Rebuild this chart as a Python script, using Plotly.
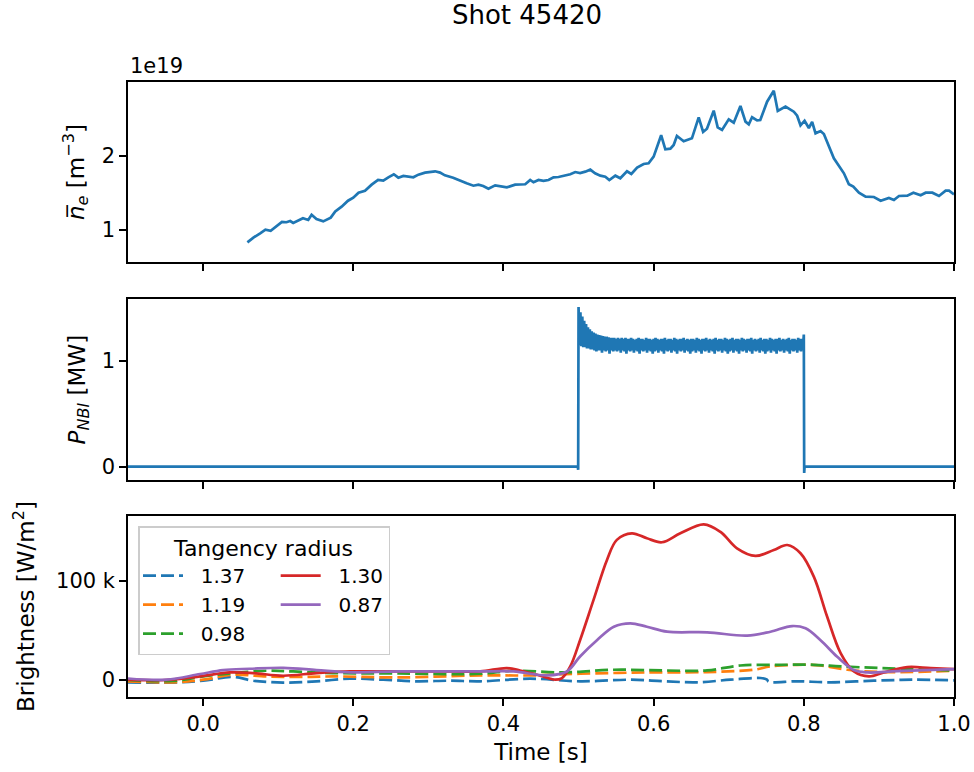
import plotly.graph_objects as go

# ---------------- data ----------------
# line-averaged density (units of 1e19 m^-3)
ne_t = [0.059, 0.067, 0.076, 0.083, 0.090, 0.098, 0.105, 0.111, 0.116, 0.120, 0.127, 0.133, 0.140, 0.1445,
        0.151, 0.160, 0.170, 0.176, 0.1845, 0.193, 0.200, 0.207, 0.2156, 0.2245, 0.233, 0.240, 0.2467,
        0.254, 0.260, 0.2667, 0.280, 0.2867, 0.2956, 0.309, 0.3156, 0.322, 0.333, 0.342, 0.351, 0.360,
        0.3667, 0.373, 0.380, 0.389, 0.398, 0.4045, 0.4156, 0.429, 0.4356, 0.440, 0.4467, 0.4533, 0.460,
        0.4667, 0.4733, 0.480, 0.489, 0.4956, 0.502, 0.509, 0.5156, 0.522, 0.529, 0.5356, 0.541, 0.549,
        0.5556, 0.5645, 0.5703, 0.578, 0.5867, 0.5933, 0.600, 0.610, 0.6156, 0.6223, 0.6267, 0.631, 0.640,
        0.651, 0.660, 0.6659, 0.671, 0.680, 0.6853, 0.6911, 0.700, 0.7067, 0.7156, 0.7223, 0.7267, 0.7311,
        0.7378, 0.742, 0.7511, 0.760, 0.7653, 0.7756, 0.7867, 0.7911, 0.7956, 0.801, 0.8067, 0.8111,
        0.8156, 0.8223, 0.8267, 0.840, 0.8534, 0.860, 0.8659, 0.8734, 0.8823, 0.8933, 0.9023, 0.9133,
        0.920, 0.9267, 0.9378, 0.9459, 0.9556, 0.9623, 0.9712, 0.980, 0.9889, 0.9934, 1.000]
ne_val = [0.834, 0.897, 0.955, 1.004, 0.990, 1.058, 1.108, 1.104, 1.120, 1.094, 1.125, 1.157, 1.135, 1.206,
          1.148, 1.116, 1.166, 1.250, 1.314, 1.394, 1.435, 1.502, 1.529, 1.610, 1.673, 1.664, 1.709,
          1.750, 1.704, 1.727, 1.709, 1.745, 1.772, 1.790, 1.772, 1.736, 1.704, 1.664, 1.628, 1.596,
          1.610, 1.592, 1.556, 1.601, 1.583, 1.574, 1.610, 1.615, 1.673, 1.642, 1.673, 1.660, 1.673,
          1.709, 1.713, 1.731, 1.750, 1.780, 1.767, 1.785, 1.812, 1.763, 1.731, 1.717, 1.673, 1.731,
          1.696, 1.790, 1.754, 1.839, 1.888, 1.897, 1.987, 2.275, 2.086, 2.094, 2.144, 2.265, 2.194,
          2.234, 2.517, 2.319, 2.363, 2.606, 2.382, 2.346, 2.490, 2.444, 2.669, 2.458, 2.423, 2.517,
          2.476, 2.480, 2.727, 2.875, 2.602, 2.660, 2.592, 2.538, 2.409, 2.471, 2.373, 2.454,
          2.301, 2.332, 2.292, 1.965, 1.763, 1.615, 1.583, 1.502, 1.448, 1.444, 1.394, 1.431,
          1.404, 1.458, 1.462, 1.502, 1.467, 1.502, 1.502, 1.458, 1.529, 1.529, 1.480]

# NBI power [MW]: off segments and the modulated on-phase (upper/lower envelope samples, interleaved)
nbi_off_before_t = [-0.1, 0.499, 0.4995]
nbi_off_before_v = [0.0, 0.0, -0.03]
nbi_band_start = 0.5
nbi_band_step = 0.0025
nbi_upper = [1.51, 1.46, 1.42, 1.38, 1.35, 1.32, 1.30, 1.28, 1.27, 1.26, 1.25, 1.245, 1.24, 1.235, 1.23, 1.23, 1.225, 1.22, 1.22, 1.22,
             1.21, 1.22, 1.21, 1.22, 1.21, 1.22, 1.21, 1.21, 1.22, 1.21, 1.20, 1.21, 1.22, 1.21, 1.21, 1.20, 1.22, 1.21, 1.21, 1.20,
             1.21, 1.22, 1.21, 1.20, 1.21, 1.21, 1.22, 1.20, 1.21, 1.21, 1.20, 1.22, 1.21, 1.20, 1.21, 1.21, 1.22, 1.20, 1.21, 1.20,
             1.21, 1.21, 1.20, 1.22, 1.21, 1.20, 1.21, 1.21, 1.22, 1.20, 1.21, 1.20, 1.21, 1.22, 1.20, 1.21, 1.21, 1.20, 1.22, 1.21,
             1.20, 1.21, 1.22, 1.20, 1.21, 1.21, 1.20, 1.22, 1.21, 1.20, 1.21, 1.21, 1.22, 1.20, 1.21, 1.20, 1.21, 1.22, 1.20, 1.21,
             1.21, 1.20, 1.22, 1.21, 1.20, 1.21, 1.21, 1.22, 1.20, 1.21, 1.20, 1.21, 1.22, 1.20, 1.21, 1.21, 1.20, 1.22, 1.21, 1.21,
             1.25]
nbi_lower = [1.15, 1.14, 1.13, 1.13, 1.12, 1.12, 1.11, 1.11, 1.10, 1.09, 1.10, 1.10, 1.08, 1.10, 1.09, 1.10, 1.07, 1.10, 1.09, 1.10,
             1.09, 1.10, 1.08, 1.10, 1.09, 1.07, 1.10, 1.09, 1.10, 1.08, 1.10, 1.09, 1.07, 1.10, 1.09, 1.10, 1.08, 1.10, 1.09, 1.07,
             1.09, 1.10, 1.08, 1.10, 1.09, 1.07, 1.10, 1.09, 1.10, 1.08, 1.10, 1.09, 1.07, 1.10, 1.09, 1.10, 1.08, 1.10, 1.09, 1.07,
             1.09, 1.10, 1.08, 1.10, 1.09, 1.07, 1.10, 1.09, 1.10, 1.08, 1.10, 1.09, 1.07, 1.10, 1.09, 1.10, 1.08, 1.10, 1.09, 1.07,
             1.09, 1.10, 1.08, 1.10, 1.09, 1.07, 1.10, 1.09, 1.10, 1.08, 1.10, 1.09, 1.07, 1.10, 1.09, 1.10, 1.08, 1.10, 1.09, 1.07,
             1.09, 1.10, 1.08, 1.10, 1.09, 1.07, 1.10, 1.09, 1.10, 1.08, 1.10, 1.09, 1.07, 1.10, 1.09, 1.10, 1.08, 1.10, 1.09, 1.11]
nbi_off_after_t = [0.8005, 0.801, 1.0]
nbi_off_after_v = [-0.06, 0.0, 0.0]

# Brightness [W/m^2] per tangency radius
b137_t = [-0.1, -0.04, 0.0, 0.04, 0.0667, 0.1067, 0.151, 0.1956, 0.24, 0.284, 0.329, 0.369, 0.4356, 0.502,
          0.569, 0.614, 0.658, 0.7023, 0.7423, 0.751, 0.753, 0.791, 0.8356, 0.8934, 0.9467, 1.0]
b137_v = [-2300, -2600, -700, 3000, -700, -2600, -1300, 1300, 300, -1300, -700, -1300, 1300, -1300,
          300, -1300, -2300, 300, 2000, 300, -1700, -1300, -2300, -700, 300, -300]
b119_t = [-0.1, -0.04, 0.0, 0.04, 0.084, 0.129, 0.173, 0.26, 0.369, 0.4356, 0.502, 0.591, 0.6712, 0.7334,
          0.7556, 0.791, 0.8223, 0.858, 0.9023, 1.0]
b119_v = [-1300, -2300, 300, 5300, 3600, 3000, 3600, 2600, 4600, 4600, 6300, 7600, 8000, 10300,
          13700, 15300, 14600, 10300, 8000, 9300]
b098_t = [-0.1, -0.04, 0.0, 0.04, 0.084, 0.12, 0.173, 0.26, 0.369, 0.4134, 0.48, 0.547, 0.614, 0.6712,
          0.7156, 0.769, 0.8134, 0.849, 0.902, 1.0]
b098_v = [0, -1000, 3600, 7000, 9300, 8600, 7000, 6600, 6300, 9300, 7600, 10300, 9600, 9600,
          14600, 15300, 15300, 13700, 12000, 9600]
b130_t = [-0.1, -0.049, -0.004, 0.0356, 0.0667, 0.1067, 0.151, 0.1956, 0.262, 0.329, 0.369, 0.4045, 0.422,
          0.4445, 0.469, 0.478, 0.489, 0.502, 0.52, 0.538, 0.551, 0.571, 0.591, 0.611, 0.6356, 0.6667,
          0.689, 0.711, 0.7356, 0.76, 0.778, 0.7956, 0.8133, 0.831, 0.849, 0.8667, 0.8867, 0.9067,
          0.9378, 0.969, 1.0]
b130_v = [300, 0, 3600, 7600, 7000, 4300, 7000, 8600, 8600, 8600, 8600, 12000, 9600,
          5300, 300, 2000, 13700, 40000, 80600, 121000, 141000, 147600, 142600, 138600, 147600, 156600,
          149000, 132500, 124800, 130800, 135800, 127500, 104000, 63900, 27100, 8600, 3600, 7600,
          13000, 12000, 11000]
b087_t = [-0.1, -0.049, -0.004, 0.0267, 0.0623, 0.107, 0.151, 0.1956, 0.26, 0.369, 0.4134, 0.458, 0.4845,
          0.502, 0.5245, 0.547, 0.569, 0.591, 0.618, 0.6712, 0.7245, 0.7556, 0.7845, 0.8023, 0.8223,
          0.8445, 0.8667, 0.8845, 0.9245, 1.0]
b087_v = [1500, 300, 6000, 10000, 11300, 12300, 10000, 7700, 8600, 8600, 8600, 4600, 8600,
          23700, 40000, 53600, 57000, 53600, 48600, 48000, 44600, 48600, 54300, 52000, 40000,
          23400, 10000, 7600, 8900, 11000]

radius_labels = ["1.37", "1.19", "0.98", "1.30", "0.87"]
radius_colors = ["#1f77b4", "#ff7f0e", "#2ca02c", "#d62728", "#9467bd"]
radius_dash = ["dash", "dash", "dash", "solid", "solid"]
radius_group = ["a", "a", "a", "b", "b"]
bright_t = [b137_t, b119_t, b098_t, b130_t, b087_t]
bright_v = [b137_v, b119_v, b098_v, b130_v, b087_v]

x_ticks = [0.0, 0.2, 0.4, 0.6, 0.8, 1.0]
x_ticktext = ["0.0", "0.2", "0.4", "0.6", "0.8", "1.0"]

# ---------------- figure ----------------
FONT = "DejaVu Sans"
LW = 2.7
fig = go.Figure()

fig.add_trace(go.Scatter(x=ne_t, y=ne_val, mode="lines", line=dict(color="#1f77b4", width=LW),
                         showlegend=False, xaxis="x", yaxis="y"))

# interleave the envelope samples of the NBI on-phase
band_t, band_v = [], []
for i, up in enumerate(nbi_upper):
    band_t.append(round(nbi_band_start + nbi_band_step * i, 6))
    band_v.append(up)
    if i < len(nbi_lower):
        band_t.append(round(nbi_band_start + nbi_band_step * (i + 0.5), 6))
        band_v.append(nbi_lower[i])
nbi_t = nbi_off_before_t + band_t + nbi_off_after_t
nbi_v = nbi_off_before_v + band_v + nbi_off_after_v
fig.add_trace(go.Scatter(x=nbi_t, y=nbi_v, mode="lines", line=dict(color="#1f77b4", width=LW),
                         showlegend=False, xaxis="x2", yaxis="y2"))

NB = "\u00a0"
for lab, col, dsh, grp, tt, vv in zip(radius_labels, radius_colors, radius_dash, radius_group, bright_t, bright_v):
    name = NB * 2 + lab + (NB * 4 if grp == "a" else "")
    fig.add_trace(go.Scatter(x=tt, y=vv, mode="lines", name=name, legendgroup=grp,
                             line=dict(color=col, width=LW, shape="spline", smoothing=1.0,
                                       dash=("13px,5px" if dsh == "dash" else "solid")),
                             xaxis="x3", yaxis="y3"))

W, H = 974, 772
ML, MR, MT, MB = 128, 20, 82, 75
PH = H - MT - MB

def dom(top_px, bot_px):
    lo = max(0.0, (H - MB - bot_px) / PH)
    hi = min(1.0, (H - MB - top_px) / PH)
    return [lo, hi]

axis_common = dict(showline=True, linecolor="black", linewidth=1.6, mirror=True,
                   ticks="outside", ticklen=7, tickwidth=1.6, tickcolor="black",
                   showgrid=False, zeroline=False, automargin=False,
                   tickfont=dict(family=FONT, size=21, color="black"))

xcommon = dict(axis_common, range=[-0.1, 1.0], tickvals=x_ticks, ticktext=x_ticktext)
fig.update_layout(
    xaxis=dict(xcommon, domain=[0, 1], anchor="y", showticklabels=False),
    xaxis2=dict(xcommon, domain=[0, 1], anchor="y2", showticklabels=False, matches="x"),
    xaxis3=dict(xcommon, domain=[0, 1], anchor="y3",
                title=dict(text="Time [s]", font=dict(family=FONT, size=23, color="black"), standoff=9),
                matches="x"),
    yaxis=dict(axis_common, domain=dom(82, 262), anchor="x", range=[0.569, 2.992], tickvals=[1, 2],
               ticktext=["1", "2"],
               title=dict(text="<i>n\u0305<sub>e</sub></i> [m<sup>\u22123</sup>]",
                          font=dict(family=FONT, size=23, color="black"), standoff=11)),
    yaxis2=dict(axis_common, domain=dom(299.3, 480), anchor="x2", range=[-0.126, 1.584], tickvals=[0, 1],
                ticktext=["0", "1"],
                title=dict(text="<i>P<sub>NBI</sub></i> [MW]",
                           font=dict(family=FONT, size=23, color="black"), standoff=10)),
    yaxis3=dict(axis_common, domain=dom(516, 697), anchor="x3", range=[-17100, 165000],
                tickvals=[0, 100000], ticktext=["0", "100 k"],
                title=dict(text="Brightness [W/m<sup>2</sup>]",
                           font=dict(family=FONT, size=23, color="black"), standoff=15)),
    width=W, height=H,
    margin=dict(l=ML, r=MR, t=MT, b=MB, autoexpand=False),
    paper_bgcolor="white", plot_bgcolor="white",
    font=dict(family=FONT, color="black"),
    title=dict(text="Shot 45420", x=527 / W, xanchor="center", y=1 - 15 / H, yanchor="middle",
               font=dict(family=FONT, size=26, color="black")),
    legend=dict(x=(138 - ML) / (W - ML - MR), y=dom(526, 697)[1], xanchor="left", yanchor="top",
                orientation="h", traceorder="grouped", tracegroupgap=0,
                bgcolor="rgba(255,255,255,0.8)", bordercolor="#cccccc", borderwidth=1.5,
                font=dict(family=FONT, size=20, color="black"), itemwidth=40,
                title=dict(text="Tangency radius", side="top center",
                           font=dict(family=FONT, size=22, color="black"))),
    annotations=[dict(text="1e19", xref="paper", yref="paper", x=0, y=1, xanchor="left", yanchor="bottom",
                      xshift=0, yshift=2, showarrow=False, font=dict(family=FONT, size=21, color="black"))],
)

fig.write_html("out.html")
